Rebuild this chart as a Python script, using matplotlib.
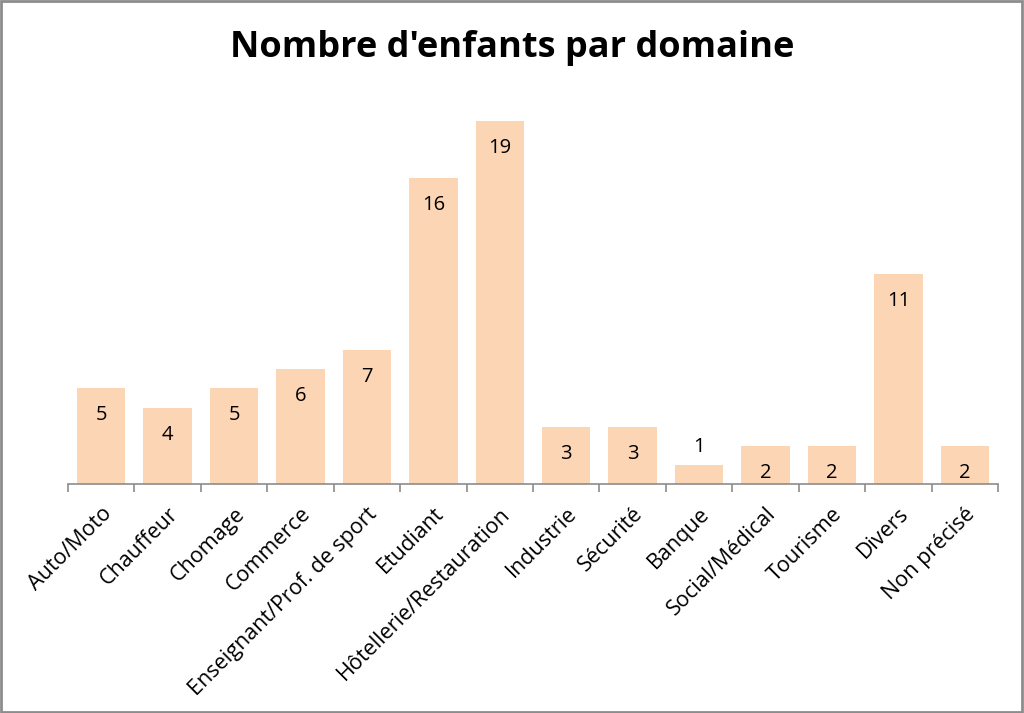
import matplotlib.pyplot as plt
from matplotlib.patches import Rectangle

domaines = ['Auto/Moto', 'Chauffeur', 'Chomage', 'Commerce',
            'Enseignant/Prof. de sport', 'Etudiant', 'Hôtellerie/Restauration',
            'Industrie', 'Sécurité', 'Banque', 'Social/Médical', 'Tourisme',
            'Divers', 'Non précisé']
nb_enfants = [5, 4, 5, 6, 7, 16, 19, 3, 3, 1, 2, 2, 11, 2]

plt.rcParams['font.family'] = ['Open Sans', 'DejaVu Sans']

fig = plt.figure(figsize=(10.24, 7.13), dpi=100)
ax = fig.add_axes([0.0664, 0.3212, 0.9082, 0.536])

x = range(len(domaines))
bars = ax.bar(x, nb_enfants, width=0.73, color='#FCD5B5', edgecolor='none')

# value labels: inside the bar near the top, above when the bar is too short
for b, v in zip(bars, nb_enfants):
    cx = b.get_x() + b.get_width() / 2
    if v >= 2:
        ax.annotate(str(v), (cx, v), xytext=(0, -27), textcoords='offset pixels',
                    ha='center', va='center', fontsize=14.5, color='black')
    else:
        ax.annotate(str(v), (cx, v), xytext=(0, 18), textcoords='offset pixels',
                    ha='center', va='center', fontsize=14.5, color='black')

ax.set_xlim(-0.5, len(domaines) - 0.5)
ax.set_ylim(0, 20)
ax.set_yticks([])
for s in ['top', 'right', 'left']:
    ax.spines[s].set_visible(False)
ax.spines['bottom'].set_color('#8c8c8c')
ax.spines['bottom'].set_linewidth(1.2)

# ticks between categories
ax.set_xticks([i - 0.5 for i in range(len(domaines) + 1)], minor=False)
ax.set_xticklabels([])
ax.tick_params(axis='x', which='major', length=6, color='#8c8c8c', width=1.2)
ax.set_xticks(list(x), minor=True)
ax.set_xticklabels(domaines, minor=True, rotation=45, ha='right',
                   rotation_mode='anchor', fontsize=15.5)
ax.tick_params(axis='x', which='minor', length=0, pad=14)

fig.text(0.5, 0.933, "Nombre d'enfants par domaine", ha='center', va='center',
         fontsize=26, fontweight='bold')

fig.patches.append(Rectangle((0.001, 0.001), 0.997, 0.997, transform=fig.transFigure,
                             fill=False, edgecolor='#8c8c8c', linewidth=2))

fig.savefig('out.png', dpi=100)
